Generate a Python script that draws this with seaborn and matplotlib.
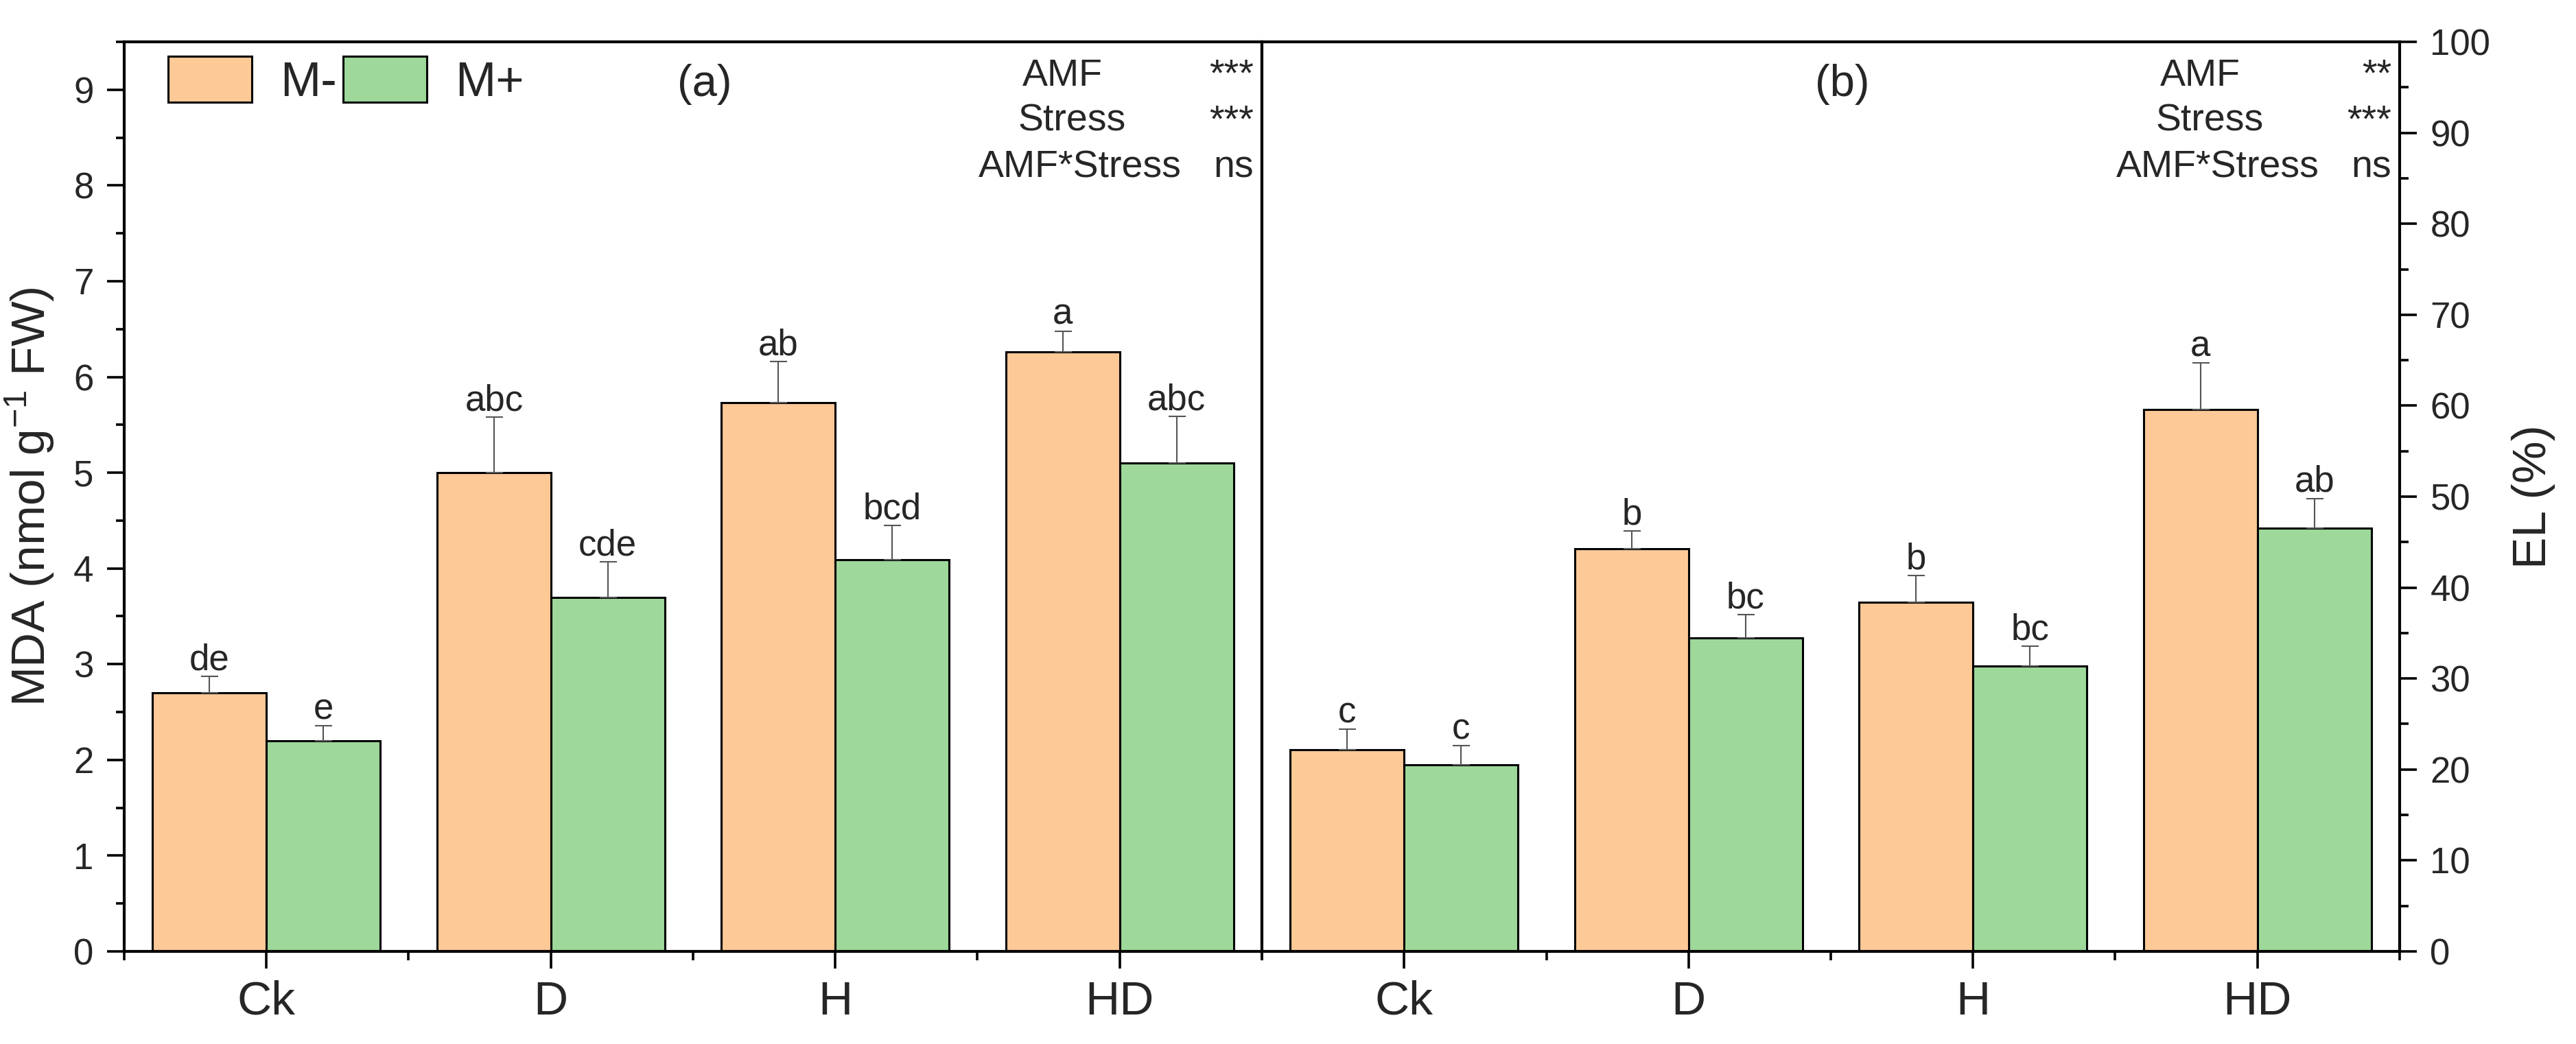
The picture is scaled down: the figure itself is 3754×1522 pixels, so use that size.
import numpy as np
import pandas as pd
import matplotlib
matplotlib.use("Agg")
import matplotlib.pyplot as plt
import matplotlib.patches as mpatches
from matplotlib.ticker import MultipleLocator
import seaborn as sns

# data
treatments = ["Ck", "D", "H", "HD"]
groups = ["M-", "M+"]

mda_minus = [2.70, 5.00, 5.73, 6.26]
mda_plus = [2.20, 3.70, 4.09, 5.10]
mda_err_minus = [0.17, 0.58, 0.43, 0.22]
mda_err_plus = [0.155, 0.37, 0.36, 0.49]
mda_letters_minus = ["de", "abc", "ab", "a"]
mda_letters_plus = ["e", "cde", "bcd", "abc"]

el_minus = [22.2, 44.3, 38.4, 59.6]
el_plus = [20.55, 34.5, 31.4, 46.5]
el_err_minus = [2.2, 1.9, 2.9, 5.1]
el_err_plus = [2.05, 2.5, 2.15, 3.3]
el_letters_minus = ["c", "b", "b", "a"]
el_letters_plus = ["c", "bc", "bc", "ab"]

stats_a = [("AMF", "***"), ("Stress", "***"), ("AMF*Stress", "ns")]
stats_b = [("AMF", "**"), ("Stress", "***"), ("AMF*Stress", "ns")]

colors = {"M-": "#FCC997", "M+": "#9ED89B"}

sns.set_style("ticks")
plt.rcParams["font.family"] = ["Liberation Sans", "DejaVu Sans"]
plt.rcParams["mathtext.fontset"] = "custom"
plt.rcParams["mathtext.rm"] = "Liberation Sans"
plt.rcParams["axes.linewidth"] = 3.0


def make_frame(minus, plus, err_minus, err_plus, let_minus, let_plus):
    rows = []
    for i, t in enumerate(treatments):
        rows.append({"treat": t, "group": "M-", "value": minus[i], "err": err_minus[i], "letter": let_minus[i]})
        rows.append({"treat": t, "group": "M+", "value": plus[i], "err": err_plus[i], "letter": let_plus[i]})
    return pd.DataFrame(rows)


def draw_panel(ax, df, ymax, major, minor, stats, tag):
    sns.barplot(data=df, x="treat", y="value", hue="group", order=treatments, hue_order=groups,
                palette=colors, saturation=1, edgecolor="black", linewidth=2.2, width=0.8,
                errorbar=None, legend=False, ax=ax)
    # upper error bars and letters
    for gi, g in enumerate(groups):
        sub = df[df["group"] == g].set_index("treat").loc[treatments]
        xs = np.arange(len(treatments)) + (-0.2 if gi == 0 else 0.2)
        ax.errorbar(xs, sub["value"], yerr=[np.zeros(len(xs)), sub["err"]], fmt="none",
                    ecolor="#555555", elinewidth=1.5, capsize=9, capthick=1.5, zorder=3)
        for x, v, e, lt in zip(xs, sub["value"], sub["err"], sub["letter"]):
            ax.annotate(lt, (x, v + e), xytext=(0, 7), textcoords="offset points",
                        ha="center", va="baseline", fontsize=38)

    ax.set_xlim(-0.5, len(treatments) - 0.5)
    ax.set_ylim(0, ymax)
    ax.yaxis.set_major_locator(MultipleLocator(major))
    ax.yaxis.set_minor_locator(MultipleLocator(minor))
    ax.set_xticks(range(len(treatments)))
    ax.set_xticks(np.arange(-0.5, len(treatments)), minor=True)
    ax.set_xlabel("")
    for s in ax.spines.values():
        s.set_visible(True)
        s.set_linewidth(3.0)
        s.set_color("black")
    ax.tick_params(axis="both", which="major", direction="out", length=18, width=2.6, color="black")
    ax.tick_params(axis="both", which="minor", direction="out", length=9, width=2.6, color="black")
    ax.tick_params(axis="x", which="major", labelsize=50, pad=12)
    ax.tick_params(axis="y", which="major", labelsize=38, pad=14)

    # statistics block in the upper right corner
    ys = [0.952, 0.902, 0.851]
    xs_lab = [0.825, 0.833, 0.840]
    for (lab, sig), y, xl in zip(stats, ys, xs_lab):
        ax.text(xl, y, lab, transform=ax.transAxes, ha="center", va="baseline", fontsize=40)
        ax.text(0.993, y, sig, transform=ax.transAxes, ha="right", va="baseline", fontsize=40)
    ax.text(0.51, 0.953, tag, transform=ax.transAxes, ha="center", va="center", fontsize=47)


fig = plt.figure(figsize=(37.55, 15.22), dpi=100)
ax1 = fig.add_axes([0.04820, 0.08870, 0.44154, 0.87122])
ax2 = fig.add_axes([0.48975, 0.08870, 0.44154, 0.87122])

df_mda = make_frame(mda_minus, mda_plus, mda_err_minus, mda_err_plus, mda_letters_minus, mda_letters_plus)
df_el = make_frame(el_minus, el_plus, el_err_minus, el_err_plus, el_letters_minus, el_letters_plus)

draw_panel(ax1, df_mda, 9.5, 1, 0.5, stats_a, "(a)")
draw_panel(ax2, df_el, 100, 10, 5, stats_b, "(b)")

ax1.set_ylabel(r"MDA (nmol g$^{\mathregular{-1}}$ FW)", fontsize=50, labelpad=18)

ax2.yaxis.tick_right()
ax2.yaxis.set_label_position("right")
ax2.tick_params(axis="y", which="both", left=False, right=True)
ax2.set_ylabel("EL (%)", fontsize=50, labelpad=22)

handles = [mpatches.Patch(facecolor=colors[g], edgecolor="black", linewidth=2.2, label=g) for g in groups]
ax1.legend(handles=handles, loc="upper left", bbox_to_anchor=(0.0386, 0.984), ncol=2, frameon=False,
           fontsize=51, handlelength=1.72, handleheight=1.07, handletextpad=0.58, columnspacing=0.13,
           borderpad=0, borderaxespad=0)

fig.savefig("out.png", dpi=100)
